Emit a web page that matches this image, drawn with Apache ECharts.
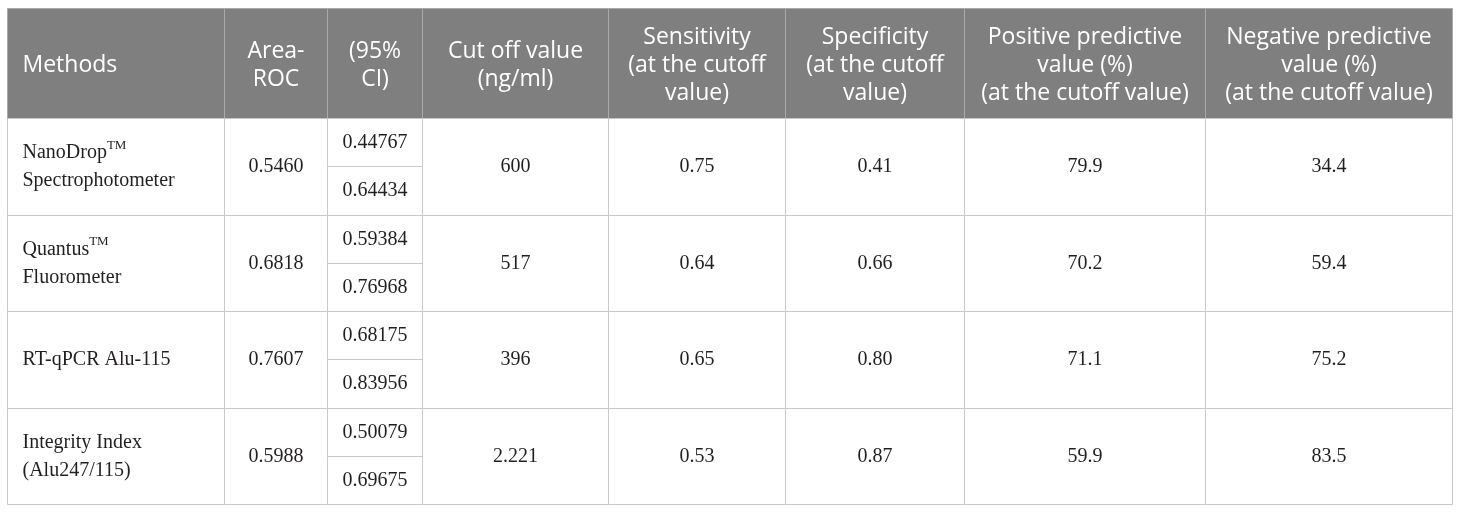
<!DOCTYPE html>
<html>
<head>
<meta charset="utf-8">
<script src="https://cdn.jsdelivr.net/npm/echarts@6.0.0/dist/echarts.min.js"></script>
<style>
  html, body { margin: 0; padding: 0; background: #fff; }
  #main { width: 1460px; height: 512px; }
</style>
</head>
<body>
<div id="main"></div>
<script>
// table content
var headers = [
  'Methods',
  'Area-\nROC',
  '(95%\nCI)',
  'Cut off value\n(ng/ml)',
  'Sensitivity\n(at the cutoff\nvalue)',
  'Specificity\n(at the cutoff\nvalue)',
  'Positive predictive\nvalue (%)\n(at the cutoff value)',
  'Negative predictive\nvalue (%)\n(at the cutoff value)'
];
var methods = [
  'NanoDrop{tm|TM}\nSpectrophotometer',
  'Quantus{tm|TM}\nFluorometer',
  'RT-qPCR Alu-115',
  'Integrity Index\n(Alu247/115)'
];
var areaRoc = ['0.5460', '0.6818', '0.7607', '0.5988'];
var ciLower = ['0.44767', '0.59384', '0.68175', '0.50079'];
var ciUpper = ['0.64434', '0.76968', '0.83956', '0.69675'];
var cutoff = ['600', '517', '396', '2.221'];
var sensitivity = ['0.75', '0.64', '0.65', '0.53'];
var specificity = ['0.41', '0.66', '0.80', '0.87'];
var ppv = ['79.9', '70.2', '71.1', '59.9'];
var npv = ['34.4', '59.4', '75.2', '83.5'];

// layout (axis units = px inside the grid)
var colEdges = [0, 217, 320, 415, 601, 778, 957, 1198, 1445];
var headH = 110;
var halfH = 48.25;
var tableH = headH + 8 * halfH;

function yEdge(k) {
  return k === 0 ? 0 : headH + (k - 1) * halfH;
}

// cells: [column, top edge, bottom edge]
var headCells = [], headTexts = [];
headers.forEach(function (h, i) {
  headCells.push([i, 0, 1]);
  headTexts.push(h);
});

var bodyCells = [], bodyTexts = [];
methods.forEach(function (m, r) {
  var a = 1 + 2 * r, b = 3 + 2 * r;
  var full = [[0, m], [1, areaRoc[r]], [3, cutoff[r]], [4, sensitivity[r]],
              [5, specificity[r]], [6, ppv[r]], [7, npv[r]]];
  full.forEach(function (f) {
    bodyCells.push([f[0], a, b]);
    bodyTexts.push(f[1]);
  });
  bodyCells.push([2, a, a + 1]);
  bodyTexts.push(ciLower[r]);
  bodyCells.push([2, a + 1, b]);
  bodyTexts.push(ciUpper[r]);
});

var texts = [headTexts, bodyTexts];

function renderItem(params, api) {
  var c = api.value(0);
  var p0 = api.coord([colEdges[c], yEdge(api.value(1))]);
  var p1 = api.coord([colEdges[c + 1], yEdge(api.value(2))]);
  var x0 = Math.round(p0[0]) + 0.5, y0 = Math.round(p0[1]) + 0.5;
  var x1 = Math.round(p1[0]) + 0.5, y1 = Math.round(p1[1]) + 0.5;
  var isHead = params.seriesIndex === 0;
  var left = c === 0;
  var txt = texts[params.seriesIndex][params.dataIndex];
  return {
    type: 'group',
    children: [{
      type: 'rect',
      shape: { x: x0, y: y0, width: x1 - x0, height: y1 - y0 },
      style: {
        fill: isHead ? '#7f7f7f' : '#ffffff',
        stroke: isHead ? '#a9a9a9' : '#c9c9c9',
        lineWidth: 1
      }
    }, {
      type: 'text',
      x: left ? x0 + 15 : (x0 + x1) / 2,
      y: (y0 + y1) / 2 + (isHead ? 2 : 0),
      style: {
        text: txt,
        align: left ? 'left' : 'center',
        verticalAlign: 'middle',
        fill: isHead ? '#ffffff' : '#231f20',
        fontFamily: isHead ? 'Open Sans' : 'Liberation Serif',
        fontSize: isHead ? 23 : 20,
        lineHeight: 28,
        rich: {
          tm: {
            fontFamily: 'Liberation Serif',
            fontSize: 13,
            lineHeight: 14,
            verticalAlign: 'top',
            fill: '#231f20'
          }
        }
      }
    }]
  };
}

var myChart = echarts.init(document.getElementById('main'));
var option = {
  animation: false,
  grid: { left: 7, top: 8, width: 1445, height: tableH },
  xAxis: { type: 'value', min: 0, max: 1445, show: false },
  yAxis: { type: 'value', min: 0, max: tableH, inverse: true, show: false },
  series: [
    {
      name: 'header',
      type: 'custom',
      renderItem: renderItem,
      data: headCells,
      silent: true
    },
    {
      name: 'body',
      type: 'custom',
      renderItem: renderItem,
      data: bodyCells,
      silent: true
    }
  ]
};
myChart.setOption(option);
</script>
</body>
</html>
